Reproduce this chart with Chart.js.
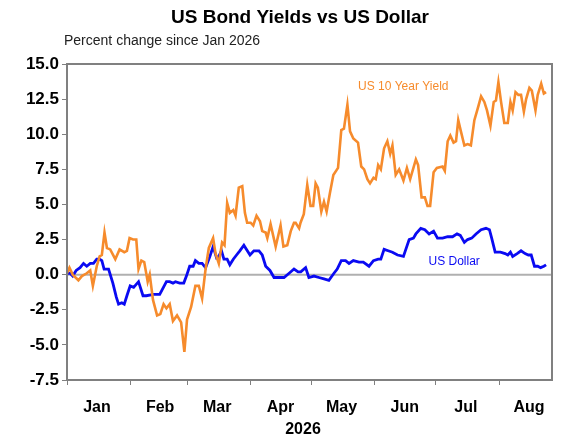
<!DOCTYPE html>
<html><head><meta charset="utf-8">
<script src="https://cdn.jsdelivr.net/npm/chart.js@4"></script>
<style>html,body{margin:0;padding:0;background:#fff}#w{width:576px;height:442px}</style>
</head><body><div id="w"><canvas id="c"></canvas></div>
<script>
const yieldDays=[0,1.2,2.8,5.6,7.3,9.7,11.4,12.7,14.6,16,17.1,18.4,19.6,21.2,23.7,25.8,28.1,29.4,30.7,32.4,34,35.1,36.5,37.9,39.6,40.6,42.2,44.2,45.8,47.4,48.8,50.4,52,54,56,57.6,58.9,60.9,63,64.7,66.3,68,69.6,71.7,72.9,74.5,76.1,77.3,78.6,79.9,81.6,82.7,84.3,86,87.3,88.4,90.1,91.4,93,94.7,95.8,97.5,98.3,99.9,102.4,104.8,106.2,108.1,109.8,111.4,112.2,113.9,114.6,116.2,117.9,119.5,120.8,122,123.1,124.8,126.1,127.4,129,130.7,133,134.6,135.9,137.6,138.9,140.5,142.8,144.4,145.8,147.4,148.7,150.4,151.5,152.7,154,155.6,157.2,158.6,159.7,161.3,163,165.1,166.8,168.4,171.2,172.3,174,175.6,176.9,178.2,179.9,181.5,184.3,185.4,186.8,188.1,189.7,190.9,192,193.3,195,196.6,198.2,199.9,201.5,203.2,204.8,206.1,207.8,209.4,210.5,211.7,213,214.6,216.3,217.6,218.7,220.1,221.5,222.8,224.2,225.3,226.9,228.1,229.9,231,232.7,234,235.1];
const yieldVals=[0.1,0.5,0,-0.4,-0.1,0.1,0.3,-0.8,0.6,1.3,1.4,3.0,1.9,1.8,1.1,1.8,1.6,1.7,2.6,2.5,2.5,0.4,1.0,0.9,-0.5,0,-1.8,-2.9,-2.8,-2.1,-2.4,-2.1,-3.3,-2.9,-3.4,-5.5,-3.2,-2.3,-0.8,-0.8,-1.7,0.4,1.9,2.6,1.5,0.8,2.3,2.1,5.1,4.4,4.6,4.2,6.2,6.3,4.4,3.7,3.7,3.5,4.2,3.8,3.1,3.0,2.6,3.6,2.0,3.5,2.0,2.1,3.1,3.7,3.7,3.3,3.7,4.3,6.4,4.9,4.9,6.5,6.2,4.5,5.2,4.5,5.8,7.1,7.6,10.3,10.4,12.1,10.2,9.7,9.4,7.7,7.5,6.8,6.5,6.9,6.8,7.8,7.5,9.0,9.5,8.6,9.2,7.1,7.5,6.7,7.6,6.8,8.2,7.8,5.5,5.5,4.9,4.9,7.3,7.6,7.7,7.4,9.5,9.9,9.4,9.5,11.0,10.2,9.2,9.3,9.2,11.0,11.8,12.7,12.3,11.7,10.6,12.3,12.4,13.7,12.3,10.8,10.8,12.3,11.7,13.0,12.8,12.8,11.6,12.5,13.3,13.1,11.7,12.8,13.6,12.9,13.0];
const usdDays=[0,1.5,2.8,4.5,6.4,8.1,9.7,11.4,13,14.6,16,17.1,18.2,20.4,22.5,24.2,25.3,26.9,28.1,29.4,31,32.7,35.1,37.3,38.9,42.5,45.5,46.6,48.8,50.4,52,53.2,55.3,57.3,58.6,60.2,61.9,63,64.7,66.3,68,70.1,71.7,73.4,74.5,75.8,77,78.6,79.9,81.6,83.2,84.8,86.8,88.1,89.8,91.7,94.2,95.8,97.5,99.6,101.6,103.2,104.8,106.5,109,111.4,113.4,114.7,117.1,118.7,121.2,123.6,126.1,128.5,131,132.6,134.6,136.7,138.4,140.5,143.3,145.4,148.2,150.4,152.7,154,155.6,157.6,159.7,162.2,165.1,167.9,170,171.2,173.6,175.6,177.7,179.9,181.8,184.3,186.8,189.2,191.4,193,195,196.6,198.6,200.7,203.2,205.6,207.3,208.4,210.1,212.7,215,216.3,217.6,218.7,220.9,222.8,224.8,226.4,227.8,229.4,231,232.4,234,235.1];
const usdVals=[0.1,0.1,-0.1,0.3,0.5,0.8,0.6,0.8,0.8,1.1,1.1,1.0,0.4,0.4,-0.6,-1.6,-2.1,-2.0,-2.1,-1.5,-0.8,-0.9,-0.5,-1.5,-1.5,-1.4,-1.4,-1.1,-0.5,-0.5,-0.6,-0.5,-0.6,-0.6,-0.1,0.6,0.6,1.0,0.8,0.8,0.5,1.3,2.0,1.2,1.3,1.7,1.1,1.1,0.7,1.1,1.4,1.7,2.1,1.8,1.4,1.7,1.7,1.4,0.6,0.3,-0.2,-0.2,-0.2,-0.2,0.1,0.4,0.2,0.2,0.5,-0.2,-0.1,-0.2,-0.3,-0.4,0.1,0.4,1.0,1.0,0.8,1.0,0.9,0.9,0.6,1.0,1.1,1.1,1.8,1.7,1.6,1.4,1.3,2.5,2.6,2.9,3.3,3.2,2.9,3.1,2.6,2.6,2.7,2.7,2.9,2.8,2.3,2.5,2.6,2.9,3.2,3.3,3.2,2.6,1.6,1.6,1.5,1.4,1.6,1.3,1.5,1.7,1.5,1.4,1.4,0.6,0.6,0.5,0.6,0.7];
const monthStarts=[0,31,59,90,120,151,181,212];
const monthNames=['Jan','Feb','Mar','Apr','May','Jun','Jul','Aug'];
const yTicks=[-7.5,-5,-2.5,0,2.5,5,7.5,10,12.5,15];
const FONT='"Liberation Sans", Arial, sans-serif';
const ORANGE='#f68b2c', BLUE='#0a0af2';

const deco={id:'deco',
 beforeDatasetsDraw(ch){const {ctx,chartArea:a,scales}=ch;ctx.save();
  const y0=scales.y.getPixelForValue(0);ctx.strokeStyle='#b0b0b0';ctx.lineWidth=2;
  ctx.beginPath();ctx.moveTo(a.left,y0);ctx.lineTo(a.right,y0);ctx.stroke();ctx.restore();},
 afterDraw(ch){const {ctx,chartArea:a,scales}=ch;ctx.save();
  ctx.strokeStyle='#808080';ctx.lineWidth=2;ctx.strokeRect(a.left,a.top,a.right-a.left,a.bottom-a.top);
  ctx.fillStyle='#000';ctx.textAlign='center';ctx.textBaseline='middle';
  ctx.font='bold 19px '+FONT;ctx.fillText('US Bond Yields vs US Dollar',300,18);
  ctx.textAlign='left';ctx.font='14px '+FONT;ctx.fillStyle='#222';ctx.fillText('Percent change since Jan 2026',64,41);
  ctx.font='12px '+FONT;ctx.textAlign='center';
  ctx.fillStyle=ORANGE;ctx.fillText('US 10 Year Yield',scales.x.getPixelForValue(165),scales.y.getPixelForValue(13.4));
  ctx.fillStyle=BLUE;ctx.fillText('US Dollar',scales.x.getPixelForValue(190),scales.y.getPixelForValue(0.95));
  ctx.font='bold 16px '+FONT;ctx.fillStyle='#000';ctx.fillText('2026',303,430);
  ctx.restore();}};

new Chart(document.getElementById('c'),{type:'line',
 data:{datasets:[
  {data:yieldDays.map((d,i)=>({x:d,y:yieldVals[i]})),borderColor:ORANGE,borderWidth:2.6,pointRadius:0,tension:0},
  {data:usdDays.map((d,i)=>({x:d,y:usdVals[i]})),borderColor:BLUE,borderWidth:2.8,pointRadius:0,tension:0}]},
 options:{responsive:true,maintainAspectRatio:false,animation:false,
  layout:{padding:{left:0,right:24,top:64,bottom:0}},
  plugins:{legend:{display:false},tooltip:{enabled:false}},
  scales:{
   x:{type:'linear',min:0,max:238,
    afterBuildTicks(s){s.ticks=monthStarts.map(v=>({value:v}));},
    afterFit(s){s.height=62;},
    grid:{drawOnChartArea:false,tickLength:5,tickColor:'#808080',offset:false},
    border:{color:'#808080',width:2},
    ticks:{autoSkip:false,maxRotation:0,labelOffset:30,padding:13,color:'#000',font:{family:FONT,size:16,weight:'bold'},
     callback:(v)=>{const i=monthStarts.indexOf(v);return i>=0?monthNames[i]:'';}}},
   y:{min:-7.5,max:15,
    afterBuildTicks(s){s.ticks=yTicks.map(v=>({value:v}));},
    afterFit(s){s.width=67;},
    grid:{drawOnChartArea:false,tickLength:5,tickColor:'#808080'},
    border:{color:'#808080',width:2},
    ticks:{padding:3,color:'#000',font:{family:FONT,size:17,weight:'bold'},callback:v=>Number(v).toFixed(1)}}}},
 plugins:[deco]});
</script></body></html>
